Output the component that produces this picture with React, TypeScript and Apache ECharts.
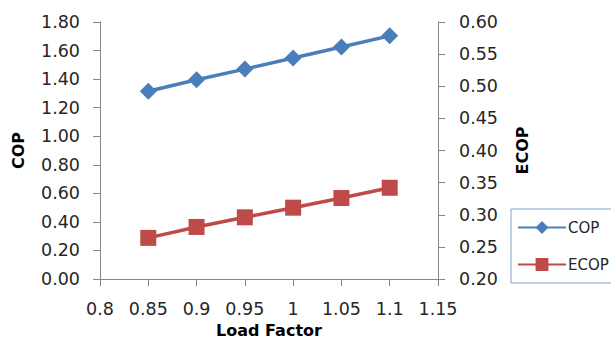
import React, { useEffect, useRef } from "react";
import * as echarts from "echarts";

const loadFactor = [0.85, 0.9, 0.95, 1.0, 1.05, 1.1];
const copValues = [1.315, 1.395, 1.47, 1.548, 1.625, 1.703];
const ecopValues = [0.264, 0.281, 0.296, 0.311, 0.326, 0.342];

const FONT = "DejaVu Sans";
const AXIS_COLOR = "#868686";
const TEXT_COLOR = "#262626";

export default function App() {
  const ref = useRef<HTMLDivElement>(null);
  useEffect(() => {
    if (!ref.current) return;
    const chart = echarts.init(ref.current, undefined, { renderer: "svg" });
    const axisLine = { show: true, lineStyle: { color: AXIS_COLOR, width: 1 } };
    const axisTick = { show: true, length: 7, lineStyle: { color: AXIS_COLOR } };
    chart.setOption({
      animation: false,
      textStyle: { fontFamily: FONT },
      grid: { left: 100, right: 173, top: 22, bottom: 60, containLabel: false, outerBoundsMode: "none" },
      legend: {
        orient: "vertical",
        left: 511,
        top: 209,
        padding: [11, 3, 11, 6],
        itemGap: 22,
        itemWidth: 48,
        itemHeight: 16,
        borderColor: "#7F9FCF",
        borderWidth: 1,
        textStyle: { fontFamily: FONT, fontSize: 15, color: TEXT_COLOR, padding: [0, 0, 0, -3] },
        data: ["COP", "ECOP"],
      },
      xAxis: {
        type: "value",
        min: 0.8,
        max: 1.15,
        interval: 0.05,
        name: "Load Factor",
        nameLocation: "middle",
        nameGap: 42,
        nameTextStyle: { fontFamily: FONT, fontSize: 16, lineHeight: 16, fontWeight: "bold", color: "#000" },
        axisLine,
        axisTick: { ...axisTick, inside: false },
        splitLine: { show: false },
        axisLabel: {
          fontFamily: FONT,
          fontSize: 17.5,
          color: TEXT_COLOR,
          margin: 21,
          formatter: (v: number) => String(parseFloat(v.toFixed(2))),
        },
      },
      yAxis: [
        {
          type: "value",
          min: 0,
          max: 1.8,
          interval: 0.2,
          name: "COP",
          nameLocation: "middle",
          nameGap: 74,
          nameTextStyle: { fontFamily: FONT, fontSize: 16, fontWeight: "bold", color: "#000" },
          axisLine,
          axisTick,
          splitLine: { show: false },
          axisLabel: {
            fontFamily: FONT,
            fontSize: 17.5,
            color: TEXT_COLOR,
            margin: 20,
            formatter: (v: number) => v.toFixed(2),
          },
        },
        {
          type: "value",
          min: 0.2,
          max: 0.6,
          interval: 0.05,
          position: "right",
          name: "ECOP",
          nameLocation: "middle",
          nameGap: 76,
          nameRotate: 90,
          nameTextStyle: { fontFamily: FONT, fontSize: 16, fontWeight: "bold", color: "#000" },
          axisLine,
          axisTick,
          splitLine: { show: false },
          axisLabel: {
            fontFamily: FONT,
            fontSize: 17.5,
            color: TEXT_COLOR,
            margin: 21,
            formatter: (v: number) => v.toFixed(2),
          },
        },
      ],
      series: [
        {
          name: "COP",
          type: "line",
          yAxisIndex: 0,
          data: loadFactor.map((x, i) => [x, copValues[i]]),
          symbol: "diamond",
          symbolSize: 17,
          lineStyle: { color: "#4A7EBB", width: 3.5 },
          itemStyle: { color: "#4A7EBB" },
          color: "#4A7EBB",
        },
        {
          name: "ECOP",
          type: "line",
          yAxisIndex: 1,
          data: loadFactor.map((x, i) => [x, ecopValues[i]]),
          symbol: "rect",
          symbolSize: 16,
          lineStyle: { color: "#BE4B48", width: 3.5 },
          itemStyle: { color: "#BE4B48" },
          color: "#BE4B48",
        },
      ],
    });
    return () => chart.dispose();
  }, []);
  return <div ref={ref} style={{ width: 611, height: 339, position: "absolute", left: 0, top: 0 }} />;
}
